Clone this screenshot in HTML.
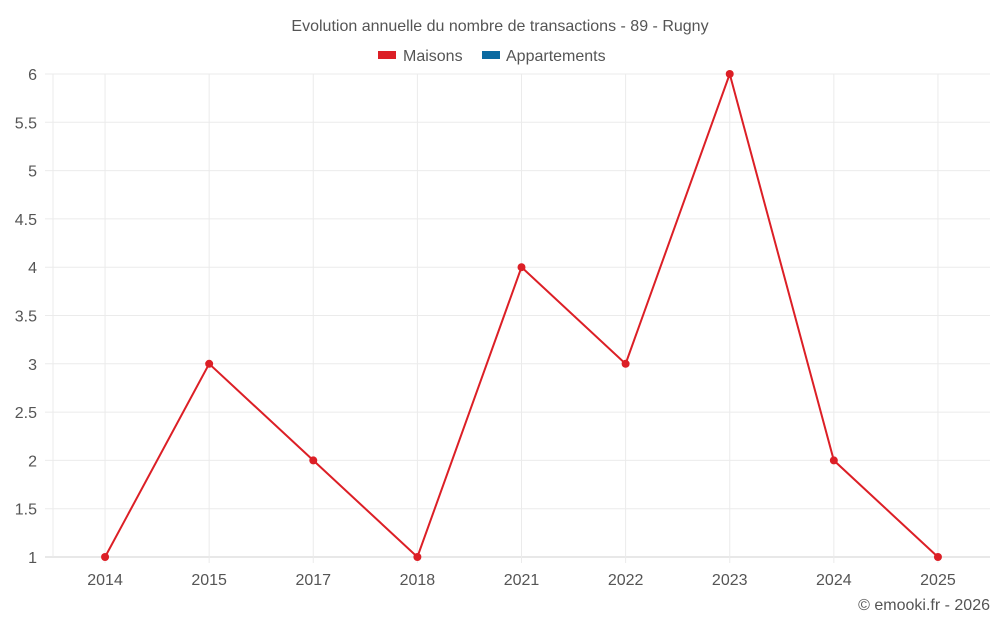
<!DOCTYPE html>
<html><head><meta charset="utf-8"><style>
body{margin:0;background:#fff;font-family:"Liberation Sans",sans-serif;}
svg text{font-family:"Liberation Sans",sans-serif;fill:#555;}
</style></head><body>
<svg id="c" width="1000" height="625">
<text x="500" y="31" text-anchor="middle" font-size="16">Evolution annuelle du nombre de transactions - 89 - Rugny</text>
<g>
<rect x="378" y="51" width="18" height="8" fill="#dc1f26"/>
<text x="403" y="61" font-size="16">Maisons</text>
<rect x="482" y="51" width="18" height="8" fill="#0a6aa1"/>
<text x="506" y="61" font-size="16">Appartements</text>
</g>
<g id="grid"></g><g id="axes"></g><g id="series"></g>
<text x="990" y="610" text-anchor="end" font-size="16">© emooki.fr - 2026</text>
</svg>
<script>
const categories=["2014","2015","2017","2018","2021","2022","2023","2024","2025"];
const maisons=[1,3,2,1,4,3,6,2,1];
const yTicks=[1,1.5,2,2.5,3,3.5,4,4.5,5,5.5,6];
const L=53,R=990,T=74,B=557,yMin=1,yMax=6;
const bw=(R-L)/categories.length;
const x=i=>L+bw*(i+0.5);
const y=v=>B-(v-yMin)/(yMax-yMin)*(B-T);
const NS="http://www.w3.org/2000/svg";
function mk(tag,attrs,parent){const e=document.createElementNS(NS,tag);for(const k in attrs)e.setAttribute(k,attrs[k]);parent.appendChild(e);return e;}
const grid=document.getElementById('grid'),axes=document.getElementById('axes'),series=document.getElementById('series');
yTicks.forEach(t=>{
 const l=mk('line',{x1:45,x2:R,y1:y(t),y2:y(t),stroke:t===yMin?'#d0d0d0':'#ebebeb'},grid);
 
 
 const tx=mk('text',{x:37,y:y(t)+6,'text-anchor':'end','font-size':16},axes);
 tx.textContent=t;
 
 
});
const lg=mk('line',{x1:L,x2:L,y1:T,y2:B,stroke:'#ebebeb'},grid);


categories.forEach((c,i)=>{
 const l=mk('line',{x1:x(i),x2:x(i),y1:T,y2:B+6,stroke:'#ebebeb'},grid);
 
 
 const tx=mk('text',{x:x(i),y:585,'text-anchor':'middle','font-size':16},axes);
 tx.textContent=c;
 
 
});
const p=mk('polyline',{points:maisons.map((v,i)=>x(i)+','+y(v)).join(' '),fill:'none',stroke:'#dc1f26','stroke-width':2},series);


maisons.forEach((v,i)=>{
 const c=mk('circle',{cx:x(i),cy:y(v),r:4,fill:'#dc1f26'},series);
 
 
});
</script>
</body></html>
